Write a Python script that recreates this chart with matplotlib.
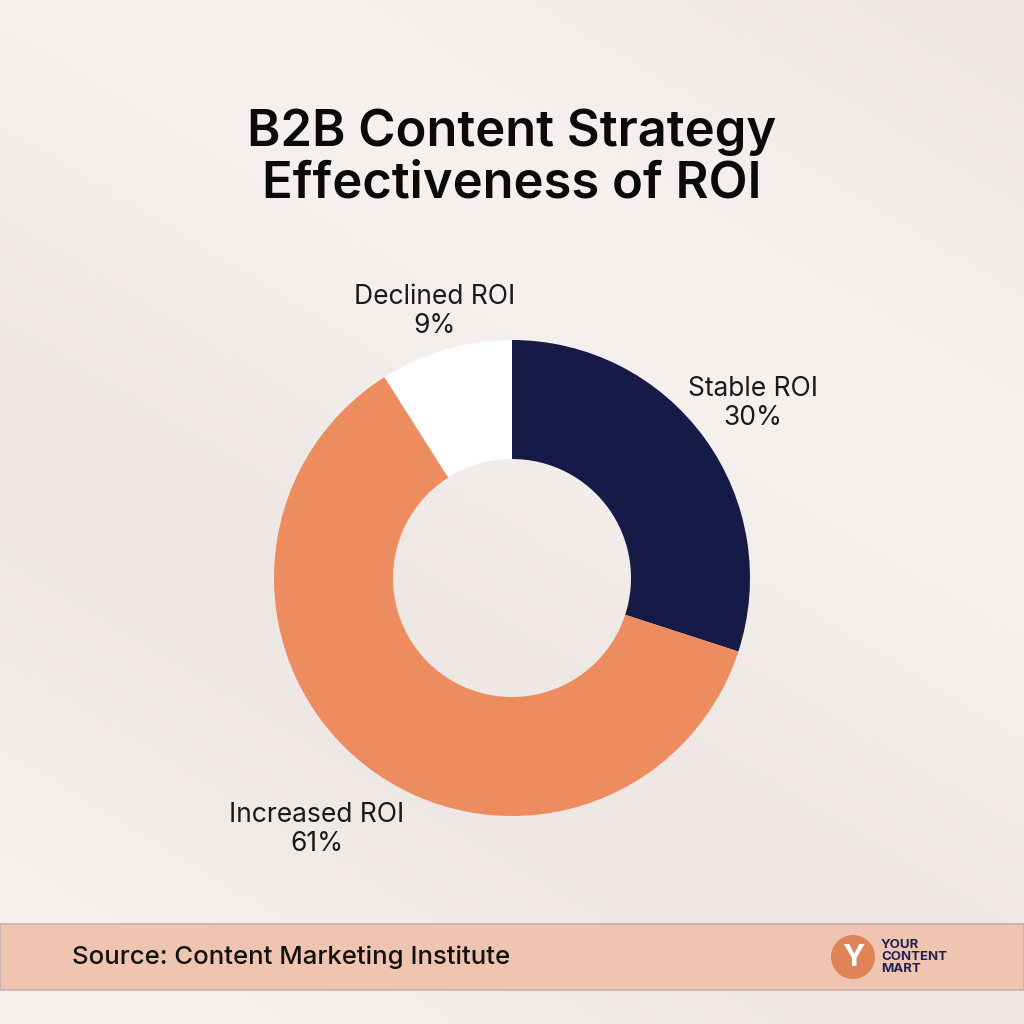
import numpy as np
import matplotlib
matplotlib.use("Agg")
import matplotlib.pyplot as plt
from matplotlib.patches import Rectangle, Circle

plt.rcParams['font.family'] = ['Inter', 'DejaVu Sans']

labels = ["Stable ROI", "Increased ROI", "Declined ROI"]
values = [30, 61, 9]
colors = ["#151A47", "#EC8C5F", "#FFFFFF"]
label_dist = [1.25, 1.34, 1.165]

title = "B2B Content Strategy\nEffectiveness of ROI"
source = "Source: Content Marketing Institute"

W = 1024
fig = plt.figure(figsize=(10.24, 10.24), dpi=100)
fig.patch.set_facecolor("#F3ECE9")

# faint background shading
bg = fig.add_axes([0, 0, 1, 1])
yy, xx = np.mgrid[0:1:200j, 0:1:200j]
shade = 0.5 + 0.5 * np.sin(6 * (xx * 0.6 - yy) + 1.0)
bg.imshow(shade, cmap=matplotlib.colors.LinearSegmentedColormap.from_list(
    "bgc", ["#EEE7E4", "#F6F1EF"]), extent=[0, 1, 0, 1], aspect="auto", alpha=1)
bg.set_xlim(0, 1)
bg.set_ylim(0, 1)
bg.axis("off")

def fx(px):
    return px / W

def fy(py):
    return 1 - py / W

fig.text(0.5, fy(158), title, ha="center", va="center", fontsize=36.5,
         fontweight="semibold", color="#0A0A0A", linespacing=1.12)

# donut
cx, cy, r = 512, 578, 238
ax = fig.add_axes([fx(cx - r), fy(cy + r), 2 * r / W, 2 * r / W])
ax.pie(values, colors=colors, startangle=90, counterclock=False, radius=1,
       wedgeprops=dict(width=0.5, edgecolor="none"))
ax.set_xlim(-1, 1)
ax.set_ylim(-1, 1)
ax.set_aspect("equal")
ax.axis("off")

start = 90.0
for lab, v, d in zip(labels, values, label_dist):
    mid = start - v * 360 / 100 / 2
    start -= v * 360 / 100
    a = np.deg2rad(mid)
    ax.text(d * np.cos(a), d * np.sin(a), f"{lab}\n{v}%", ha="center", va="center",
            fontsize=19, color="#1A1A1A", linespacing=1.15, clip_on=False)

# footer band
fig.patches.append(Rectangle((0, fy(990)), 1, (990 - 924) / W, transform=fig.transFigure,
                             facecolor="#EFC4B0", edgecolor="#C9AEB0", linewidth=1.2))
fig.text(fx(72), fy(957), source, ha="left", va="center", fontsize=18.5,
         fontweight="medium", color="#111111")

# logo
fig.patches.append(Circle((fx(853), fy(957)), 22 / W, transform=fig.transFigure,
                          facecolor="#E08457", edgecolor="none"))
fig.text(fx(853), fy(958), "Y", ha="center", va="center", fontsize=22,
         fontweight="bold", color="white")
fig.text(fx(881), fy(957), "YOUR\nCONTENT\nMART", ha="left", va="center", fontsize=9.5,
         fontweight="bold", color="#1E2155", linespacing=1.0)

fig.savefig("out.png", dpi=100, facecolor=fig.get_facecolor())
